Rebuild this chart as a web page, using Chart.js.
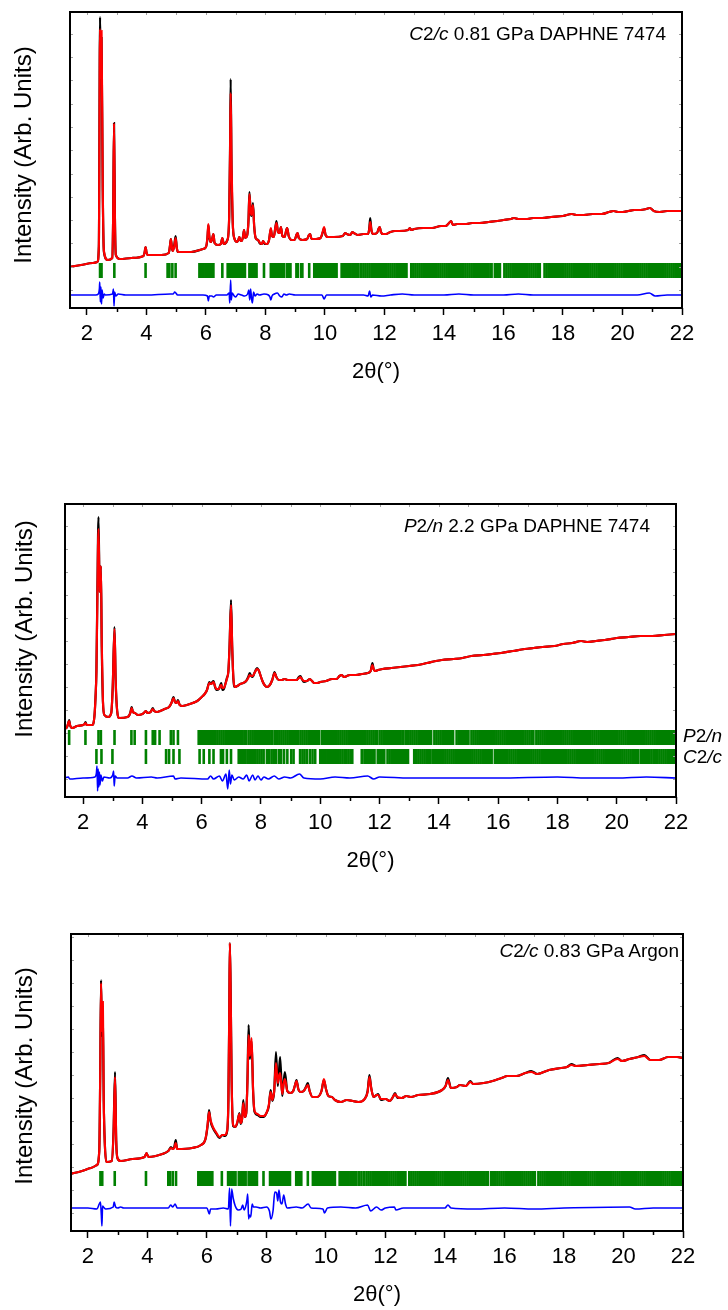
<!DOCTYPE html>
<html><head><meta charset="utf-8">
<script src="https://cdn.jsdelivr.net/npm/chart.js@4.4.1/dist/chart.umd.min.js"></script>
<style>
html,body{margin:0;padding:0;background:#fff;}
body{width:728px;height:1310px;position:relative;overflow:hidden;font-family:"Liberation Sans",Arial,sans-serif;color:#000;}
canvas{position:absolute;left:0;}
.lbl{position:absolute;font-size:19px;line-height:19px;white-space:nowrap;}
.ytitle{position:absolute;font-size:24px;line-height:24px;white-space:nowrap;transform:translate(-50%,-50%) rotate(-90deg);}
</style></head>
<body>
<canvas id="c1" width="728" height="387" style="top:0px"></canvas>
<canvas id="c2" width="728" height="384" style="top:492px"></canvas>
<canvas id="c3" width="728" height="388" style="top:922px"></canvas>

<div class="ytitle" style="left:22.5px;top:155px">Intensity (Arb. Units)</div>
<div class="ytitle" style="left:24px;top:629px">Intensity (Arb. Units)</div>
<div class="ytitle" style="left:24px;top:1076px">Intensity (Arb. Units)</div>

<div class="lbl" style="right:62px;top:24px"><i>C</i>2<i>/c</i> 0.81 GPa DAPHNE 7474</div>
<div class="lbl" style="right:78px;top:515.5px"><i>P</i>2<i>/n</i> 2.2 GPa DAPHNE 7474</div>
<div class="lbl" style="right:49px;top:940.5px"><i>C</i>2<i>/c</i> 0.83 GPa Argon</div>
<div class="lbl" style="left:683px;top:726px"><i>P</i>2<i>/n</i></div>
<div class="lbl" style="left:683px;top:747px"><i>C</i>2<i>/c</i></div>

<script>
// ---------- tick labels ----------
const xMajorTicks = [2, 4, 6, 8, 10, 12, 14, 16, 18, 20, 22];
const xMinorTicks = [3, 5, 7, 9, 11, 13, 15, 17, 19, 21];

// ---------- Panel 1: C2/c 0.81 GPa DAPHNE 7474 ----------
const p1Obs = [[1.4,41],[1.8,43],[2.2,45],[2.35,46],[2.4,62],[2.44,291],[2.465,238],[2.49,270],[2.53,118],[2.57,56],[2.7,48],[2.85,50],[2.88,90],[2.91,185],[2.94,90],[2.97,53],[3.1,49],[3.5,50],[3.9,52],[3.94,56],[3.97,61],[4.0,56],[4.04,53],[4.5,53],[4.75,55],[4.79,62],[4.82,69],[4.85,62],[4.88,57],[4.93,62],[4.98,72],[5.02,60],[5.06,56],[5.5,56],[5.9,59],[6.0,61],[6.05,70],[6.08,83],[6.11,72],[6.15,66],[6.2,68],[6.25,74],[6.29,65],[6.4,63],[6.5,64],[6.55,70],[6.6,64],[6.72,68],[6.78,90],[6.81,160],[6.83,229],[6.86,140],[6.9,85],[6.95,70],[7.05,66],[7.1,69],[7.12,71],[7.15,68],[7.2,67],[7.25,72],[7.28,78],[7.32,70],[7.38,72],[7.43,88],[7.46,116],[7.5,96],[7.53,92],[7.58,105],[7.62,82],[7.67,70],[7.75,68],[7.82,64],[7.88,64],[7.92,67],[7.97,64],[8.05,64],[8.12,68],[8.18,79],[8.22,72],[8.28,71],[8.33,80],[8.37,87],[8.42,76],[8.47,75],[8.52,81],[8.57,72],[8.64,71],[8.7,78],[8.73,80],[8.78,72],[8.88,68],[8.98,68],[9.04,73],[9.08,75],[9.12,70],[9.25,68],[9.4,69],[9.46,73],[9.5,74],[9.55,69],[9.7,69],[9.85,70],[9.93,76],[9.97,80],[10.02,73],[10.1,71],[10.3,71],[10.6,72],[10.68,75],[10.74,74],[10.85,73],[10.92,76],[10.97,75],[11.1,73],[11.3,74],[11.45,74],[11.49,80],[11.52,90],[11.56,78],[11.62,74],[11.75,75],[11.8,79],[11.84,81],[11.88,76],[11.95,74],[12.05,74],[12.2,76],[12.35,77],[12.5,77],[12.8,78],[12.85,80],[12.9,78],[13.0,79],[13.3,80],[13.6,80],[13.9,82],[14.05,82],[14.17,85],[14.24,87],[14.3,83],[14.45,84],[14.6,84],[14.75,84],[14.95,85],[15.2,85],[15.5,86],[15.8,87],[16.0,88],[16.25,89],[16.35,90],[16.5,89],[16.8,89],[17.0,90],[17.3,90],[17.6,91],[18.0,92],[18.3,94],[18.45,93],[18.7,93],[19.0,94],[19.3,94],[19.55,96],[19.7,97],[19.85,96],[20.0,96],[20.2,97],[20.4,98],[20.6,98],[20.8,99],[20.92,100],[21.05,97],[21.25,96],[21.5,97],[21.8,97],[22.0,97]];
const p1Calc = [[1.4,41],[1.8,43],[2.2,45],[2.35,46],[2.4,62],[2.44,279],[2.465,230],[2.49,277],[2.53,122],[2.57,57],[2.7,48],[2.85,50],[2.88,90],[2.91,185],[2.94,91],[2.97,53],[3.1,49],[3.5,50],[3.9,52],[3.94,56],[3.97,61],[4.0,56],[4.04,53],[4.5,53],[4.75,55],[4.79,62],[4.82,69],[4.85,62],[4.88,57],[4.93,61],[4.98,70],[5.02,60],[5.06,56],[5.5,56],[5.9,59],[6.0,61],[6.05,71],[6.08,84],[6.11,73],[6.15,66],[6.2,68],[6.25,74],[6.29,65],[6.4,63],[6.5,64],[6.55,70],[6.6,64],[6.72,68],[6.78,92],[6.81,158],[6.83,215],[6.86,142],[6.9,86],[6.95,70],[7.05,66],[7.1,69],[7.12,71],[7.15,68],[7.2,67],[7.25,72],[7.28,78],[7.32,70],[7.38,72],[7.43,88],[7.46,114],[7.5,97],[7.53,93],[7.58,103],[7.62,82],[7.67,70],[7.75,68],[7.82,65],[7.88,64],[7.92,67],[7.97,65],[8.05,64],[8.12,68],[8.18,80],[8.22,72],[8.28,71],[8.33,80],[8.37,85],[8.42,76],[8.47,75],[8.52,81],[8.57,72],[8.64,71],[8.7,78],[8.73,80],[8.78,72],[8.88,68],[8.98,68],[9.04,73],[9.08,75],[9.12,70],[9.25,68],[9.4,69],[9.46,73],[9.5,74],[9.55,69],[9.7,69],[9.85,70],[9.93,77],[9.97,81],[10.02,73],[10.1,71],[10.3,71],[10.6,72],[10.68,75],[10.74,74],[10.85,73],[10.92,76],[10.97,75],[11.1,73],[11.3,74],[11.45,74],[11.49,79],[11.52,86],[11.56,78],[11.62,74],[11.75,75],[11.8,79],[11.84,81],[11.88,76],[11.95,74],[12.05,74],[12.2,76],[12.35,77],[12.5,77],[12.8,78],[12.85,80],[12.9,78],[13.0,79],[13.3,80],[13.6,80],[13.9,82],[14.05,82],[14.17,85],[14.24,87],[14.3,83],[14.45,84],[14.6,84],[14.75,84],[14.95,85],[15.2,85],[15.5,86],[15.8,87],[16.0,88],[16.25,89],[16.35,90],[16.5,89],[16.8,89],[17.0,90],[17.3,90],[17.6,91],[18.0,92],[18.3,94],[18.45,93],[18.7,93],[19.0,94],[19.3,94],[19.55,96],[19.7,97],[19.85,96],[20.0,96],[20.2,97],[20.4,98],[20.6,98],[20.8,99],[20.92,100],[21.05,97],[21.25,96],[21.5,97],[21.8,97],[22.0,97]];
const p1Diff = [[1.4,13],[2.3,13],[2.38,14],[2.42,20],[2.43,26],[2.45,6],[2.47,21],[2.49,4],[2.51,18],[2.54,10],[2.58,14],[2.62,13],[2.86,14],[2.89,19],[2.91,2],[2.93,16],[2.97,12],[3.05,14],[3.3,13],[4.0,13],[4.8,14],[4.9,14],[4.95,16],[5.05,13],[5.9,13],[6.05,12],[6.08,7],[6.11,12],[6.2,12],[6.25,11],[6.35,13],[6.7,13],[6.78,15],[6.8,5],[6.83,28],[6.85,8],[6.88,15],[6.95,12],[7.0,11],[7.08,14],[7.2,13],[7.3,12],[7.4,14],[7.44,18],[7.47,8],[7.5,19],[7.53,10],[7.56,5],[7.6,16],[7.65,12],[7.72,14],[7.8,13],[7.95,14],[8.1,13],[8.15,11],[8.18,8],[8.22,12],[8.3,14],[8.4,15],[8.48,12],[8.55,11],[8.62,14],[8.7,13],[8.8,14],[9.0,13],[9.5,13],[9.9,13],[9.97,9],[10.05,13],[10.5,13],[11.0,13],[11.3,13],[11.45,12],[11.5,17],[11.54,11],[11.6,13],[11.9,12],[12.2,13],[12.6,14],[13.0,13],[13.5,13],[14.0,13],[14.5,14],[15.0,13],[15.5,13],[16.0,13],[16.5,14],[17.0,13],[17.5,13],[18.0,13],[18.5,13],[19.0,13],[19.5,13],[20.0,13],[20.5,13],[20.9,15],[21.1,12],[21.5,13],[22.0,13]];
const p1Refl = [2.44,2.49,2.92,3.97,4.71,4.77,4.87,4.98,5.78,5.82,5.87,5.92,5.98,6.04,6.09,6.14,6.2,6.25,6.55,6.73,6.77,6.81,6.85,6.9,6.95,7.0,7.05,7.12,7.17,7.22,7.27,7.31,7.46,7.51,7.56,7.6,7.65,7.7,7.95,8.18,8.22,8.27,8.32,8.37,8.42,8.47,8.53,8.58,8.63,8.73,8.79,8.84,9.04,9.09,9.2,9.24,9.47,9.64,9.68,9.72,9.76,9.8,9.84,9.88,9.92,9.96,10.0,10.04,10.08,10.12,10.17,10.22,10.27,10.33,10.39,10.56,10.6,10.65,10.7,10.75,10.8,10.86,10.92,10.98,11.05,11.12,11.2,11.29,11.36,11.43,11.5,11.57,11.64,11.71,11.78,11.85,11.92,11.99,12.06,12.13,12.2,12.27,12.34,12.41,12.48,12.55,12.62,12.69,12.74,12.9,12.97,13.04,13.11,13.18,13.25,13.32,13.39,13.46,13.53,13.6,13.67,13.74,13.81,13.88,13.95,14.02,14.09,14.16,14.23,14.3,14.37,14.44,14.51,14.58,14.65,14.72,14.79,14.86,14.93,15.0,15.07,15.14,15.21,15.28,15.35,15.42,15.49,15.56,15.6,15.71,15.78,15.85,15.88,16.03,16.1,16.17,16.24,16.31,16.38,16.45,16.52,16.59,16.66,16.73,16.8,16.87,16.94,17.01,17.08,17.15,17.22,17.38,17.45,17.52,17.59,17.66,17.73,17.8,17.87,17.94,18.01,18.08,18.15,18.22,18.29,18.36,18.43,18.5,18.57,18.64,18.71,18.78,18.85,18.92,18.99,19.06,19.13,19.2,19.27,19.34,19.41,19.48,19.55,19.62,19.69,19.76,19.83,19.9,19.97,20.04,20.11,20.18,20.25,20.32,20.39,20.46,20.53,20.6,20.67,20.74,20.81,20.88,20.95,21.02,21.09,21.16,21.23,21.3,21.37,21.44,21.51,21.58,21.65,21.72,21.79,21.86,21.93,21.99];

// ---------- Panel 2: P2/n 2.2 GPa DAPHNE 7474 ----------
const p2Obs = [[1.38,68],[1.46,70],[1.5,74],[1.53,77],[1.56,72],[1.62,69],[1.8,71],[2.0,72],[2.05,73],[2.08,75],[2.12,72],[2.3,72],[2.38,80],[2.42,100],[2.45,127],[2.48,200],[2.52,280],[2.56,205],[2.6,231],[2.63,150],[2.67,95],[2.72,82],[2.85,80],[2.95,84],[3.0,110],[3.06,170],[3.1,115],[3.15,86],[3.22,79],[3.5,80],[3.58,83],[3.62,88],[3.64,90],[3.68,85],[3.75,84],[3.85,82],[4.0,83],[4.08,85],[4.12,86],[4.17,84],[4.28,85],[4.35,89],[4.4,86],[4.5,85],[4.6,86],[4.75,88],[4.9,90],[4.98,94],[5.05,100],[5.1,95],[5.15,94],[5.2,97],[5.26,92],[5.35,91],[5.5,92],[5.7,94],[5.85,96],[6.0,100],[6.1,103],[6.18,107],[6.26,115],[6.32,113],[6.36,115],[6.4,116],[6.45,110],[6.5,107],[6.58,108],[6.63,112],[6.66,114],[6.7,107],[6.75,108],[6.8,113],[6.85,119],[6.9,125],[6.94,150],[6.99,197],[7.03,150],[7.07,118],[7.12,110],[7.2,111],[7.3,113],[7.4,114],[7.5,116],[7.57,120],[7.62,124],[7.67,121],[7.72,120],[7.78,124],[7.84,128],[7.87,129],[7.92,127],[7.98,122],[8.05,116],[8.12,112],[8.2,110],[8.3,112],[8.38,117],[8.46,125],[8.52,120],[8.6,117],[8.7,117],[8.8,118],[8.9,117],[9.0,117],[9.1,117],[9.2,117],[9.28,120],[9.33,121],[9.38,118],[9.45,115],[9.55,116],[9.65,118],[9.72,116],[9.8,114],[9.9,114],[10.0,115],[10.2,116],[10.4,118],[10.55,118],[10.65,121],[10.72,122],[10.8,120],[10.9,121],[11.0,122],[11.2,122],[11.4,123],[11.6,124],[11.7,126],[11.76,134],[11.8,128],[11.85,126],[11.95,127],[12.1,128],[12.4,129],[12.7,130],[13.0,131],[13.3,132],[13.6,134],[13.9,136],[14.1,137],[14.5,138],[14.8,139],[15.1,141],[15.5,142],[15.8,143],[16.1,144],[16.5,146],[16.9,148],[17.2,149],[17.5,150],[17.9,151],[18.2,153],[18.5,154],[18.8,156],[19.0,155],[19.3,156],[19.6,157],[20.0,159],[20.4,160],[20.8,161],[21.2,161],[21.6,162],[22.0,163]];
const p2Calc = [[1.38,68],[1.46,70],[1.5,74],[1.53,76],[1.56,72],[1.62,69],[1.8,71],[2.0,72],[2.05,73],[2.08,74],[2.12,72],[2.3,72],[2.38,80],[2.42,100],[2.45,125],[2.48,195],[2.52,268],[2.56,205],[2.6,231],[2.63,152],[2.67,96],[2.72,82],[2.85,80],[2.95,84],[3.0,110],[3.06,168],[3.1,116],[3.15,86],[3.22,79],[3.5,80],[3.58,83],[3.62,87],[3.64,89],[3.68,85],[3.75,84],[3.85,82],[4.0,83],[4.08,85],[4.12,86],[4.17,84],[4.28,85],[4.35,88],[4.4,86],[4.5,85],[4.6,86],[4.75,88],[4.9,90],[4.98,94],[5.05,99],[5.1,95],[5.15,94],[5.2,96],[5.26,92],[5.35,91],[5.5,92],[5.7,94],[5.85,96],[6.0,100],[6.1,103],[6.18,107],[6.26,114],[6.32,113],[6.36,114],[6.4,115],[6.45,111],[6.5,108],[6.58,108],[6.63,111],[6.66,112],[6.7,109],[6.75,109],[6.8,113],[6.85,118],[6.9,126],[6.94,150],[6.99,192],[7.03,150],[7.07,119],[7.12,110],[7.2,111],[7.3,113],[7.4,114],[7.5,116],[7.57,119],[7.62,122],[7.67,121],[7.72,121],[7.78,124],[7.84,127],[7.87,128],[7.92,127],[7.98,122],[8.05,116],[8.12,112],[8.2,110],[8.3,112],[8.38,117],[8.46,124],[8.52,120],[8.6,117],[8.7,117],[8.8,118],[8.9,117],[9.0,117],[9.1,117],[9.2,117],[9.28,119],[9.33,120],[9.38,118],[9.45,116],[9.55,116],[9.65,118],[9.72,116],[9.8,114],[9.9,114],[10.0,115],[10.2,116],[10.4,118],[10.55,118],[10.65,121],[10.72,122],[10.8,120],[10.9,121],[11.0,122],[11.2,122],[11.4,123],[11.6,124],[11.7,126],[11.76,132],[11.8,128],[11.85,126],[11.95,127],[12.1,128],[12.4,129],[12.7,130],[13.0,131],[13.3,132],[13.6,134],[13.9,136],[14.1,137],[14.5,138],[14.8,139],[15.1,141],[15.5,142],[15.8,143],[16.1,144],[16.5,146],[16.9,148],[17.2,149],[17.5,150],[17.9,151],[18.2,153],[18.5,154],[18.8,156],[19.0,155],[19.3,156],[19.6,157],[20.0,159],[20.4,160],[20.8,161],[21.2,161],[21.6,162],[22.0,163]];
const p2Diff = [[1.38,19],[1.5,20],[1.55,18],[2.0,19],[2.4,20],[2.45,24],[2.47,31],[2.49,6],[2.51,28],[2.53,10],[2.55,25],[2.57,12],[2.6,22],[2.65,16],[2.7,20],[2.9,19],[3.0,22],[3.03,26],[3.05,11],[3.08,21],[3.15,19],[3.5,19],[3.65,21],[3.8,19],[4.3,20],[4.5,19],[5.05,21],[5.1,18],[5.3,19],[6.2,18],[6.3,21],[6.4,18],[6.6,21],[6.7,16],[6.82,23],[6.88,8],[6.93,27],[6.97,13],[7.02,22],[7.1,17],[7.25,20],[7.4,18],[7.52,22],[7.6,16],[7.72,22],[7.8,17],[7.9,21],[8.0,17],[8.1,20],[8.25,18],[8.45,21],[8.6,18],[8.8,20],[9.0,19],[9.3,23],[9.45,19],[10.0,18],[10.5,20],[11.0,19],[11.6,21],[11.8,18],[12.0,20],[13.0,19],[14.0,19],[16.0,19],[18.0,20],[19.0,19],[20.0,19],[21.0,20],[22.0,19]];
const p2P2nRefl = [1.53,2.08,2.52,2.6,3.06,3.63,3.74,4.12,4.35,4.43,4.58,4.96,5.05,5.2,5.9,5.97,6.04,6.11,6.18,6.25,6.32,6.39,6.46,6.53,6.6,6.67,6.74,6.81,6.88,6.95,7.02,7.09,7.16,7.23,7.3,7.37,7.44,7.49,7.58,7.65,7.72,7.79,7.86,7.93,8.0,8.07,8.14,8.21,8.28,8.35,8.39,8.48,8.55,8.62,8.69,8.76,8.83,8.9,8.97,9.04,9.11,9.18,9.24,9.33,9.4,9.47,9.54,9.61,9.68,9.75,9.82,9.89,9.95,10.05,10.12,10.19,10.26,10.33,10.4,10.47,10.54,10.61,10.68,10.75,10.82,10.89,10.96,11.03,11.1,11.17,11.24,11.31,11.38,11.45,11.52,11.59,11.66,11.73,11.8,11.87,11.91,12.0,12.07,12.14,12.21,12.28,12.35,12.42,12.49,12.56,12.63,12.7,12.77,12.81,12.9,12.97,13.04,13.11,13.18,13.25,13.32,13.39,13.46,13.53,13.6,13.67,13.74,13.85,13.92,13.99,14.06,14.13,14.2,14.27,14.34,14.41,14.48,14.6,14.67,14.74,14.81,14.88,14.95,15.0,15.1,15.17,15.24,15.31,15.38,15.45,15.52,15.59,15.66,15.73,15.8,15.87,15.94,16.01,16.08,16.15,16.22,16.29,16.36,16.43,16.5,16.57,16.64,16.71,16.78,16.85,16.92,16.99,17.06,17.13,17.19,17.29,17.36,17.43,17.5,17.57,17.64,17.71,17.78,17.85,17.92,17.99,18.06,18.13,18.2,18.27,18.34,18.41,18.48,18.55,18.62,18.69,18.76,18.83,18.9,18.97,19.04,19.11,19.18,19.25,19.32,19.39,19.46,19.53,19.6,19.67,19.74,19.81,19.88,19.95,20.02,20.09,20.16,20.23,20.3,20.37,20.44,20.51,20.58,20.65,20.72,20.79,20.86,20.93,21.0,21.07,21.14,21.21,21.28,21.35,21.42,21.49,21.56,21.63,21.7,21.77,21.84,21.91,21.98];
const p2C2cRefl = [2.45,2.62,2.99,4.12,4.8,4.9,5.05,5.25,5.93,6.07,6.26,6.4,6.65,6.72,6.85,6.99,7.25,7.3,7.36,7.42,7.48,7.55,7.61,7.67,7.74,7.81,7.88,7.95,8.02,8.09,8.2,8.28,8.36,8.43,8.5,8.6,8.68,8.78,8.89,9.02,9.1,9.32,9.4,9.47,9.55,9.65,9.74,9.83,10.0,10.06,10.12,10.18,10.24,10.3,10.36,10.42,10.49,10.57,10.62,10.68,10.75,10.82,10.88,10.95,11.02,11.08,11.4,11.49,11.55,11.6,11.66,11.72,11.78,11.83,11.94,12.0,12.06,12.12,12.16,12.27,12.34,12.41,12.48,12.55,12.62,12.69,12.76,12.83,12.9,12.96,13.17,13.24,13.31,13.38,13.45,13.52,13.59,13.66,13.72,13.8,13.87,13.94,14.01,14.08,14.15,14.22,14.29,14.36,14.43,14.5,14.57,14.64,14.71,14.78,14.85,14.92,14.99,15.06,15.13,15.2,15.27,15.34,15.41,15.48,15.55,15.62,15.69,15.76,15.78,15.89,15.96,16.03,16.1,16.17,16.24,16.31,16.38,16.45,16.52,16.59,16.66,16.73,16.8,16.87,16.9,16.98,17.05,17.12,17.19,17.26,17.33,17.4,17.47,17.54,17.61,17.68,17.75,17.82,17.89,17.96,18.03,18.08,18.16,18.23,18.3,18.37,18.44,18.51,18.58,18.65,18.72,18.79,18.86,18.93,19.0,19.07,19.14,19.21,19.28,19.35,19.42,19.49,19.56,19.63,19.7,19.77,19.84,19.91,19.98,20.05,20.12,20.19,20.26,20.33,20.4,20.47,20.54,20.61,20.68,20.73,20.82,20.89,20.96,21.03,21.1,21.17,21.24,21.29,21.37,21.44,21.51,21.58,21.65,21.72,21.79,21.86,21.93,21.99];

// ---------- Panel 3: C2/c 0.83 GPa Argon ----------
const p3Obs = [[1.4,57],[1.8,60],[2.1,63],[2.3,66],[2.38,80],[2.41,150],[2.44,251],[2.47,195],[2.5,220],[2.53,130],[2.57,85],[2.62,69],[2.8,70],[2.86,100],[2.91,159],[2.95,90],[2.99,73],[3.1,70],[3.5,72],[3.9,74],[3.97,78],[4.03,74],[4.5,77],[4.7,80],[4.79,84],[4.85,82],[4.9,84],[4.95,91],[5.0,82],[5.5,83],[5.8,86],[5.95,92],[6.02,105],[6.07,121],[6.12,110],[6.2,103],[6.32,97],[6.42,93],[6.52,96],[6.6,95],[6.68,100],[6.72,130],[6.75,220],[6.77,288],[6.8,230],[6.83,150],[6.88,105],[6.95,104],[7.02,108],[7.09,118],[7.13,107],[7.18,112],[7.22,131],[7.27,114],[7.32,118],[7.36,150],[7.4,206],[7.44,172],[7.5,190],[7.55,140],[7.6,119],[7.7,116],[7.8,114],[7.9,114],[8.0,118],[8.08,125],[8.14,141],[8.2,130],[8.26,140],[8.32,179],[8.38,145],[8.42,160],[8.46,174],[8.53,135],[8.58,150],[8.62,159],[8.7,140],[8.8,138],[8.9,140],[8.96,146],[9.01,151],[9.07,142],[9.15,139],[9.25,140],[9.34,145],[9.39,148],[9.45,140],[9.55,134],[9.7,134],[9.85,140],[9.93,151],[10.0,142],[10.08,135],[10.2,134],[10.3,131],[10.5,129],[10.7,131],[10.9,130],[11.1,129],[11.3,132],[11.4,140],[11.46,156],[11.52,143],[11.6,134],[11.7,136],[11.75,137],[11.85,131],[12.0,132],[12.15,130],[12.25,134],[12.32,138],[12.4,133],[12.55,133],[12.7,135],[12.85,134],[13.1,136],[13.5,137],[13.9,141],[14.02,145],[14.1,153],[14.2,143],[14.4,144],[14.5,146],[14.7,145],[14.85,150],[14.95,147],[15.3,148],[15.6,150],[15.9,153],[16.1,155],[16.4,155],[16.7,158],[16.9,160],[17.1,157],[17.5,161],[17.9,163],[18.1,164],[18.25,167],[18.4,165],[18.8,166],[19.2,167],[19.5,168],[19.8,173],[19.95,170],[20.2,172],[20.5,174],[20.7,176],[20.9,171],[21.2,171],[21.5,174],[21.8,174],[22.0,173]];
const p3Calc = [[1.4,57],[1.8,60],[2.1,63],[2.3,66],[2.38,80],[2.41,150],[2.44,248],[2.47,200],[2.5,229],[2.53,132],[2.57,85],[2.62,69],[2.8,70],[2.86,98],[2.91,154],[2.95,90],[2.99,73],[3.1,70],[3.5,72],[3.9,74],[3.97,78],[4.03,74],[4.5,77],[4.7,80],[4.79,83],[4.85,82],[4.9,83],[4.95,88],[5.0,82],[5.5,83],[5.8,86],[5.95,92],[6.02,106],[6.07,119],[6.12,111],[6.2,104],[6.32,98],[6.42,94],[6.52,96],[6.6,96],[6.68,101],[6.72,132],[6.75,222],[6.77,288],[6.8,228],[6.83,148],[6.88,106],[6.95,104],[7.02,109],[7.09,117],[7.13,108],[7.18,112],[7.22,128],[7.27,114],[7.32,118],[7.36,148],[7.4,196],[7.44,175],[7.5,193],[7.55,141],[7.6,120],[7.7,117],[7.8,115],[7.9,115],[8.0,118],[8.08,126],[8.14,139],[8.2,131],[8.26,140],[8.32,168],[8.38,148],[8.42,155],[8.46,158],[8.53,137],[8.58,148],[8.62,152],[8.7,140],[8.8,138],[8.9,140],[8.96,146],[9.01,150],[9.07,142],[9.15,139],[9.25,140],[9.34,144],[9.39,146],[9.45,140],[9.55,134],[9.7,134],[9.85,140],[9.93,152],[10.0,142],[10.08,135],[10.2,134],[10.3,131],[10.5,129],[10.7,131],[10.9,130],[11.1,129],[11.3,132],[11.4,139],[11.46,154],[11.52,143],[11.6,134],[11.7,136],[11.75,136],[11.85,132],[12.0,132],[12.15,130],[12.25,134],[12.32,137],[12.4,134],[12.55,133],[12.7,135],[12.85,134],[13.1,136],[13.5,137],[13.9,141],[14.02,145],[14.1,151],[14.2,143],[14.4,144],[14.5,146],[14.7,145],[14.85,149],[14.95,147],[15.3,148],[15.6,150],[15.9,153],[16.1,155],[16.4,155],[16.7,158],[16.9,159],[17.1,157],[17.5,161],[17.9,163],[18.1,164],[18.25,166],[18.4,165],[18.8,166],[19.2,167],[19.5,168],[19.8,172],[19.95,170],[20.2,172],[20.5,174],[20.7,175],[20.9,171],[21.2,171],[21.5,174],[21.8,174],[22.0,173]];
const p3Diff = [[1.4,23],[2.0,23],[2.3,22],[2.38,27],[2.42,29],[2.45,16],[2.47,5],[2.49,25],[2.52,24],[2.6,22],[2.85,24],[2.88,29],[2.93,24],[3.0,23],[3.1,24],[3.2,23],[4.0,23],[4.7,23],[4.78,26],[4.85,24],[4.93,27],[5.0,23],[6.0,23],[6.08,17],[6.12,22],[6.3,22],[6.55,23],[6.72,22],[6.76,43],[6.79,5],[6.83,42],[6.88,33],[6.95,25],[7.05,21],[7.15,22],[7.2,26],[7.25,21],[7.34,30],[7.37,37],[7.4,12],[7.43,16],[7.47,14],[7.52,27],[7.56,24],[7.65,24],[7.8,23],[8.0,24],[8.1,20],[8.15,12],[8.22,20],[8.28,39],[8.34,38],[8.38,30],[8.42,41],[8.47,29],[8.52,27],[8.58,36],[8.64,27],[8.7,23],[9.0,24],[9.2,23],[9.4,27],[9.5,23],[9.9,22],[9.95,18],[10.05,23],[10.5,24],[11.0,23],[11.4,26],[11.5,20],[11.7,24],[11.85,21],[12.0,23],[12.3,24],[12.35,21],[12.6,23],[13.0,23],[14.0,23],[14.1,26],[14.2,23],[15.0,22],[16.0,23],[17.0,22],[18.0,23],[20.2,24],[20.4,22],[21.0,23],[22.0,23]];
const p3Refl = [2.42,2.48,2.9,3.95,4.7,4.76,4.85,4.96,5.71,5.76,5.8,5.85,5.9,5.96,6.02,6.07,6.13,6.18,6.5,6.71,6.75,6.79,6.84,6.89,6.93,6.96,7.07,7.12,7.17,7.22,7.26,7.3,7.4,7.45,7.5,7.55,7.6,7.64,7.68,7.9,8.12,8.16,8.21,8.26,8.3,8.35,8.4,8.46,8.51,8.56,8.62,8.69,8.74,8.79,9.0,9.05,9.13,9.17,9.39,9.56,9.6,9.64,9.68,9.72,9.76,9.8,9.84,9.88,9.92,9.96,10.0,10.05,10.1,10.15,10.2,10.25,10.3,10.46,10.5,10.55,10.6,10.65,10.7,10.76,10.82,10.88,10.95,11.02,11.1,11.19,11.27,11.36,11.43,11.5,11.57,11.64,11.71,11.78,11.85,11.92,11.99,12.06,12.13,12.2,12.27,12.34,12.41,12.48,12.55,12.62,12.67,12.8,12.87,12.94,13.01,13.08,13.15,13.22,13.29,13.36,13.43,13.5,13.57,13.64,13.71,13.78,13.85,13.92,13.99,14.06,14.13,14.2,14.27,14.34,14.41,14.48,14.55,14.62,14.69,14.76,14.83,14.9,14.97,15.04,15.11,15.18,15.25,15.32,15.39,15.44,15.55,15.62,15.69,15.76,15.83,15.9,15.97,16.04,16.11,16.18,16.25,16.32,16.39,16.46,16.53,16.6,16.67,16.74,16.81,16.88,16.95,17.02,17.14,17.21,17.28,17.35,17.42,17.49,17.56,17.63,17.7,17.77,17.84,17.91,17.98,18.05,18.12,18.19,18.26,18.33,18.4,18.47,18.54,18.61,18.68,18.75,18.82,18.89,18.96,19.03,19.1,19.17,19.24,19.31,19.38,19.45,19.52,19.59,19.66,19.73,19.8,19.87,19.94,20.01,20.08,20.15,20.22,20.29,20.36,20.43,20.5,20.57,20.64,20.71,20.78,20.85,20.92,20.99,21.06,21.13,21.2,21.27,21.34,21.41,21.48,21.55,21.62,21.69,21.76,21.83,21.9,21.97];

// faint inward ticks on the left / right frame (intensity values)
const p1YTicks = [18, 41, 65, 88, 111, 134, 158, 181, 204, 228, 251, 274];
const p2YTicks = [18, 41, 64, 87, 110, 133, 156, 179, 202, 225, 248, 271];
const p3YTicks = [18, 41, 64, 87, 110, 133, 156, 179, 202, 225, 248, 271, 294];

// ---------- drawing ----------
const FONT = '"Liberation Sans", Arial, sans-serif';
Chart.defaults.font.family = FONT;
Chart.defaults.color = '#000';

const framePlugin = {
  id: 'frame',
  afterDatasetsDraw(chart, args, opts) {
    const {ctx, chartArea: a, scales: {x, y}} = chart;
    ctx.save();
    ctx.lineCap = 'butt';
    ctx.strokeStyle = '#000'; ctx.lineWidth = 1.5;
    xMinorTicks.forEach(v => {
      const px = Math.round(x.getPixelForValue(v)) + 0.5;
      ctx.beginPath(); ctx.moveTo(px, a.bottom); ctx.lineTo(px, a.bottom + 4); ctx.stroke();
    });
    ctx.strokeStyle = '#a0a0a0'; ctx.lineWidth = 1;
    xMajorTicks.concat(xMinorTicks).forEach(v => {
      const px = Math.round(x.getPixelForValue(v)) + 0.5;
      ctx.beginPath(); ctx.moveTo(px, a.top); ctx.lineTo(px, a.top + 3); ctx.stroke();
    });
    (opts.yTicks || []).forEach(v => {
      const py = Math.round(y.getPixelForValue(v)) + 0.5;
      ctx.beginPath(); ctx.moveTo(a.left, py); ctx.lineTo(a.left + 3, py); ctx.stroke();
      ctx.beginPath(); ctx.moveTo(a.right - 3, py); ctx.lineTo(a.right, py); ctx.stroke();
    });
    ctx.strokeStyle = '#000'; ctx.lineWidth = 2;
    ctx.strokeRect(a.left, a.top, a.right - a.left, a.bottom - a.top);
    ctx.restore();
  }
};

function xy(arr) { return arr.map(p => ({x: p[0], y: p[1]})); }

function buildPanel(id, cfg) {
  const tickSets = cfg.refl.map(r => ({
    label: r.name,
    data: r.pos.map(v => ({x: v, y: r.level})),
    showLine: false,
    pointStyle: 'line',
    pointRotation: 90,
    pointRadius: 7.5,
    pointBorderWidth: 2.6,
    pointBorderColor: '#008000',
    pointBackgroundColor: '#008000',
    borderColor: '#008000',
    order: 3
  }));
  const curve = (label, data, color, width, order) => ({
    label, data: xy(data), showLine: true, borderColor: color, borderWidth: width,
    pointRadius: 0, cubicInterpolationMode: 'monotone', order
  });
  return new Chart(document.getElementById(id), {
    type: 'scatter',
    data: {
      datasets: [
        curve('Calculated', cfg.calc, '#ff0000', 2.2, 0),
        curve('Observed', cfg.obs, '#000000', 2.2, 1),
        curve('Difference', cfg.diff, '#0000ff', 1.6, 2),
        ...tickSets
      ]
    },
    options: {
      responsive: false,
      animation: false,
      devicePixelRatio: 1,
      events: [],
      layout: {padding: cfg.pad},
      plugins: {legend: {display: false}, tooltip: {enabled: false}, frame: {yTicks: cfg.yTicks}},
      scales: {
        x: {
          type: 'linear', min: cfg.xMin, max: 22,
          afterBuildTicks: s => { s.ticks = xMajorTicks.map(v => ({value: v})); },
          afterFit: s => { s.height = 78; },
          grid: {display: true, drawOnChartArea: false, drawTicks: true, tickLength: 7, tickWidth: 1.5, tickColor: '#000'},
          border: {display: false},
          ticks: {font: {family: FONT, size: 22}, color: '#000', padding: 6, maxRotation: 0, autoSkip: false},
          title: {display: true, text: '2θ(°)', font: {family: FONT, size: 22}, color: '#000', padding: {top: 0, bottom: 1}}
        },
        y: {type: 'linear', display: false, min: 0, max: cfg.yMax}
      }
    },
    plugins: [framePlugin]
  });
}

buildPanel('c1', {
  obs: p1Obs, calc: p1Calc, diff: p1Diff,
  refl: [{name: 'C2/c', pos: p1Refl, level: 37.5}],
  xMin: 1.43, yMax: 296, yTicks: p1YTicks,
  pad: {left: 70, right: 46, top: 12, bottom: 1}
});
buildPanel('c2', {
  obs: p2Obs, calc: p2Calc, diff: p2Diff,
  refl: [{name: 'P2/n', pos: p2P2nRefl, level: 59.5}, {name: 'C2/c', pos: p2C2cRefl, level: 40.5}],
  xMin: 1.39, yMax: 293, yTicks: p2YTicks,
  pad: {left: 65, right: 52, top: 12, bottom: 1}
});
buildPanel('c3', {
  obs: p3Obs, calc: p3Calc, diff: p3Diff,
  refl: [{name: 'C2/c', pos: p3Refl, level: 52.5}],
  xMin: 1.43, yMax: 297, yTicks: p3YTicks,
  pad: {left: 71, right: 45, top: 12, bottom: 1}
});
</script>
</body></html>
